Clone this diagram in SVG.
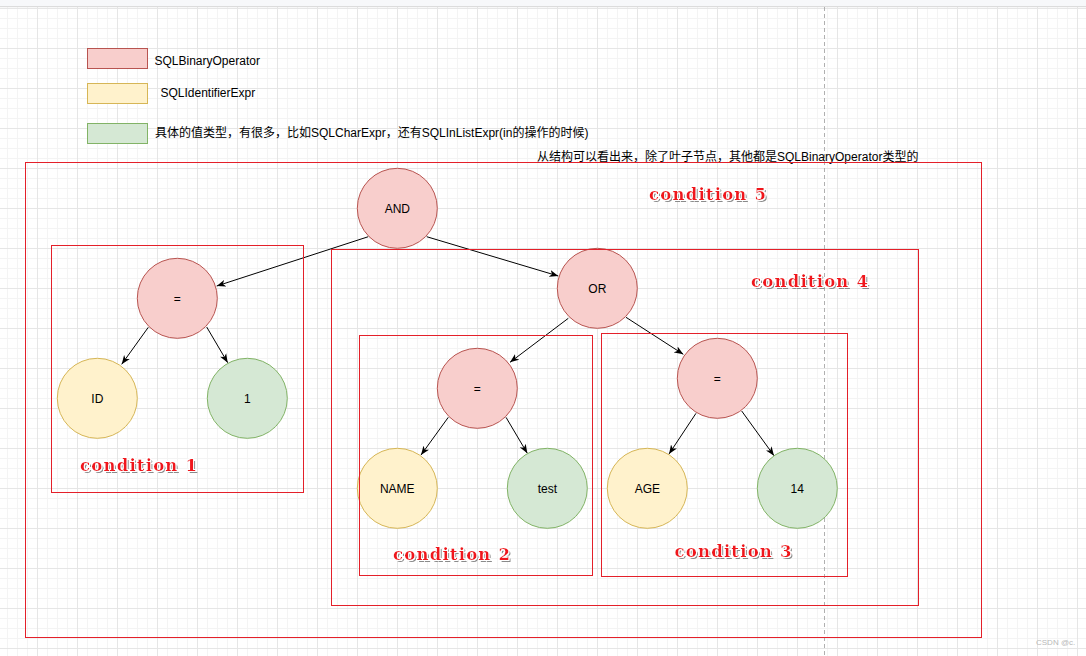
<svg xmlns="http://www.w3.org/2000/svg" width="1086" height="656" viewBox="0 0 1086 656">
<style>
.lbl{font-family:"Liberation Sans",Arial,"Noto Sans CJK SC",sans-serif;font-size:12px;fill:#000}
.ctr{text-anchor:middle}
.op circle{fill:#f8cecc;stroke:#b85450;stroke-width:1}
.id circle{fill:#fff2cc;stroke:#d6b656;stroke-width:1}
.val circle{fill:#d5e8d4;stroke:#82b366;stroke-width:1}
.box{fill:none;stroke:#e4202a;stroke-width:1}
.cond{font-family:"DejaVu Serif",serif;font-weight:bold;font-size:16.5px;letter-spacing:1.2px;fill:#f0141e;filter:url(#sh)}
.edge{stroke:#000;stroke-width:1;fill:none;marker-end:url(#arr)}
</style>
<defs>
<pattern id="grid" x="-3" y="8" width="40" height="40" patternUnits="userSpaceOnUse">
<rect x="10" y="0" width="1" height="40" fill="#f4f4f4"/>
<rect x="20" y="0" width="1" height="40" fill="#f4f4f4"/>
<rect x="30" y="0" width="1" height="40" fill="#f4f4f4"/>
<rect x="0" y="10" width="40" height="1" fill="#f4f4f4"/>
<rect x="0" y="20" width="40" height="1" fill="#f4f4f4"/>
<rect x="0" y="30" width="40" height="1" fill="#f4f4f4"/>
<rect x="0" y="0" width="1" height="40" fill="#e6e6e6"/>
<rect x="0" y="0" width="40" height="1" fill="#e6e6e6"/>
</pattern>
<marker id="arr" markerWidth="10" markerHeight="8" refX="9" refY="4" orient="auto" markerUnits="userSpaceOnUse">
<path d="M0,0.5 L9,4 L0,7.5 L2.5,4 Z" fill="#000"/>
</marker>
<filter id="sh" x="-10%" y="-30%" width="130%" height="170%">
<feMorphology in="SourceAlpha" operator="dilate" radius="1" result="d"/>
<feFlood flood-color="#ffffff"/>
<feComposite in2="d" operator="in" result="w"/>
<feOffset in="SourceAlpha" dx="1.5" dy="1.5" result="o"/>
<feGaussianBlur in="o" stdDeviation="0.7" result="b"/>
<feFlood flood-color="#8a8a8a"/>
<feComposite in2="b" operator="in" result="g"/>
<feMerge><feMergeNode in="g"/><feMergeNode in="w"/><feMergeNode in="SourceGraphic"/></feMerge>
</filter>
</defs>
<rect x="0" y="0" width="1086" height="656" fill="#fff"/>
<rect x="0" y="7" width="1086" height="649" fill="url(#grid)"/>
<rect x="0" y="0" width="1086" height="7" fill="#f7f8fa"/>
<rect x="0" y="6" width="1086" height="1.2" fill="#dcdcdc"/>
<line x1="824.5" y1="7" x2="824.5" y2="656" stroke="#b0b0b0" stroke-width="1" stroke-dasharray="4,3"/>

<g id="legend">
<rect x="87.5" y="48.5" width="60" height="20" fill="#f8cecc" stroke="#b85450"/>
<text class="lbl" x="154.5" y="65">SQLBinaryOperator</text>
<rect x="87.5" y="83.5" width="60" height="20" fill="#fff2cc" stroke="#d6b656"/>
<text class="lbl" x="160.5" y="97">SQLIdentifierExpr</text>
<rect x="87.5" y="123.5" width="60" height="20" fill="#d5e8d4" stroke="#82b366"/>
<text class="lbl" x="155" y="137">具体的值类型，有很多，比如SQLCharExpr，还有SQLInListExpr(in的操作的时候)</text>
</g>
<text id="note" class="lbl" x="537" y="161">从结构可以看出来，除了叶子节点，其他都是SQLBinaryOperator类型的</text>

<g id="connectors">
<line class="edge" x1="368.3" y1="236.7" x2="216.7" y2="286"/>
<line class="edge" x1="426.7" y1="236.7" x2="558.3" y2="276"/>
<line class="edge" x1="148.3" y1="327.3" x2="121.7" y2="364.3"/>
<line class="edge" x1="206.7" y1="327" x2="227.7" y2="362.7"/>
<line class="edge" x1="568.3" y1="318.3" x2="510" y2="362.3"/>
<line class="edge" x1="626" y1="317.3" x2="683.3" y2="354.3"/>
<line class="edge" x1="448.3" y1="417.3" x2="421" y2="455"/>
<line class="edge" x1="506" y1="417.3" x2="527.3" y2="453.3"/>
<line class="edge" x1="696" y1="413.3" x2="669" y2="454"/>
<line class="edge" x1="741.7" y1="411" x2="774" y2="455.7"/>
</g>

<g id="n-and" class="op"><circle cx="397.3" cy="208.3" r="40"/><text class="lbl ctr" x="397.3" y="212.5">AND</text></g>
<g id="n-eq1" class="op"><circle cx="177.3" cy="298.3" r="40"/><text class="lbl ctr" x="177.3" y="302.5">=</text></g>
<g id="n-id" class="id"><circle cx="97.3" cy="398.3" r="40"/><text class="lbl ctr" x="97.3" y="402.5">ID</text></g>
<g id="n-1" class="val"><circle cx="247.3" cy="398.3" r="40"/><text class="lbl ctr" x="247.3" y="402.5">1</text></g>
<g id="n-or" class="op"><circle cx="597.3" cy="288.3" r="40"/><text class="lbl ctr" x="597.3" y="292.5">OR</text></g>
<g id="n-eq2" class="op"><circle cx="477.3" cy="388.3" r="40"/><text class="lbl ctr" x="477.3" y="392.5">=</text></g>
<g id="n-name" class="id"><circle cx="397.3" cy="488.3" r="40"/><text class="lbl ctr" x="397.3" y="492.5">NAME</text></g>
<g id="n-test" class="val"><circle cx="547.3" cy="488.3" r="40"/><text class="lbl ctr" x="547.3" y="492.5">test</text></g>
<g id="n-eq3" class="op"><circle cx="717.3" cy="378.3" r="40"/><text class="lbl ctr" x="717.3" y="382.5">=</text></g>
<g id="n-age" class="id"><circle cx="647.3" cy="488.3" r="40"/><text class="lbl ctr" x="647.3" y="492.5">AGE</text></g>
<g id="n-14" class="val"><circle cx="797.3" cy="488.3" r="40"/><text class="lbl ctr" x="797.3" y="492.5">14</text></g>

<g id="cond5"><rect class="box" x="25.5" y="162.5" width="956" height="475"/><text class="cond" x="649" y="200">condition 5</text></g>
<g id="cond1"><rect class="box" x="51.5" y="245.5" width="252" height="247"/><text class="cond" x="80" y="471">condition 1</text></g>
<g id="cond4"><rect class="box" x="331.5" y="249.5" width="587" height="356"/><text class="cond" x="751" y="287">condition 4</text></g>
<g id="cond2"><rect class="box" x="359.5" y="335.5" width="233" height="240"/><text class="cond" x="393" y="560">condition 2</text></g>
<g id="cond3"><rect class="box" x="601.5" y="333.5" width="246" height="243"/><text class="cond" x="674.5" y="556.5">condition 3</text></g>

<text id="wm" x="1036" y="645" font-family="'Liberation Sans',Arial,sans-serif" font-size="8" fill="#b8b8b8">CSDN @c.</text>
</svg>
